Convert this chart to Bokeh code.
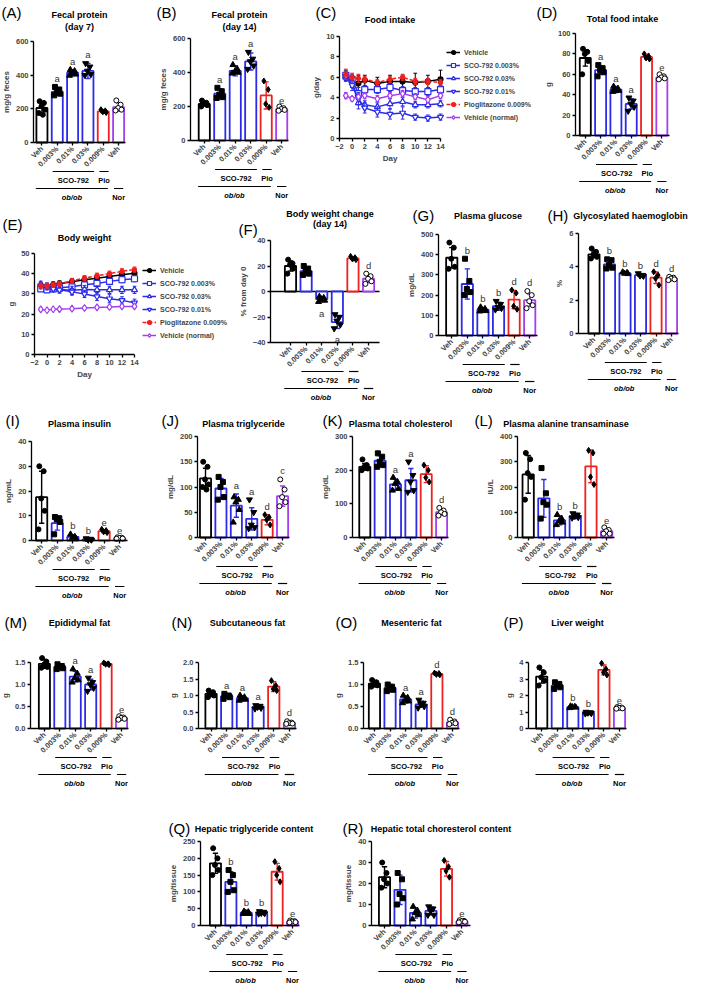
import math
from bokeh.plotting import figure
from bokeh.layouts import column, row
from bokeh.models import (Label, FixedTicker, Legend, LegendItem,
                          ColumnDataSource, Range1d, Spacer, NumeralTickFormatter)
from bokeh.embed import file_html
from bokeh.resources import INLINE
from bokeh.core.properties import value

# ---------------- data ----------------
groups = ["Veh", "0.003%", "0.01%", "0.03%", "0.009%", "Veh"]

fecal7_ticks = [0, 200, 400, 600]
fecal7_mean = [205, 300, 415, 425, 185, 210]
fecal7_sd = [35, 20, 18, 45, 10, 25]
fecal7_pts = [[245, 235, 215, 195, 175, 165], [330, 315, 300, 290, 280], [432, 425, 415, 405, 398],
              [470, 450, 425, 405, 400], [195, 188, 182, 178], [250, 225, 205, 195, 190]]
fecal7_sig = ["", "a", "a", "a", "", ""]

fecal14_ticks = [0, 200, 400, 600]
fecal14_mean = [215, 275, 410, 465, 265, 185]
fecal14_sd = [10, 28, 30, 50, 80, 10]
fecal14_pts = [[235, 222, 215, 208, 200], [310, 290, 270, 255, 250], [445, 420, 405, 400, 395],
               [520, 480, 465, 440, 420], [350, 300, 215, 195], [200, 190, 185, 180, 175]]
fecal14_sig = ["", "a", "a", "a", "", "e"]

food_total_ticks = [0, 20, 40, 60, 80, 100]
food_total_mean = [76, 64, 45, 31, 77, 57]
food_total_sd = [8, 4, 3, 5, 2, 2]
food_total_pts = [[85, 82, 80, 73, 60], [69, 66, 64, 62, 58], [48, 46, 45, 44, 43],
                  [37, 34, 31, 28, 24], [80, 78, 76, 75], [60, 58, 57, 56, 55]]
food_total_sig = ["", "a", "a", "a", "", "e"]

bwchg_ticks = [-40, -20, 0, 20, 40]
bwchg_mean = [20, 16, -6, -24, 26, 10]
bwchg_sd = [4, 3, 2, 5, 1, 3]
bwchg_pts = [[25, 22, 21, 18, 14], [20, 18, 16, 14, 13], [-4, -5, -6, -7, -8],
             [-18, -20, -23, -26, -29], [27.5, 26.5, 25.5, 25], [14, 12, 10, 8, 6]]
bwchg_sig = ["", "", "a", "a", "", "d"]

glucose_ticks = [0, 100, 200, 300, 400, 500]
glucose_mean = [385, 255, 128, 145, 178, 175]
glucose_sd = [50, 75, 10, 20, 45, 30]
glucose_pts = [[460, 435, 380, 340, 330], [380, 270, 230, 215, 200], [140, 132, 125, 122, 120],
               [170, 155, 140, 135, 128], [225, 210, 145, 130], [220, 200, 170, 150, 135]]
glucose_sig = ["", "b", "b", "b", "d", "d"]

hba1c_ticks = [0, 2, 4, 6]
hba1c_mean = [4.75, 4.15, 3.62, 3.5, 3.35, 3.3]
hba1c_sd = [0.2, 0.25, 0.05, 0.08, 0.35, 0.08]
hba1c_pts = [[5.1, 4.9, 4.75, 4.6, 4.5], [4.45, 4.4, 4.1, 3.95, 3.9], [3.68, 3.64, 3.6, 3.58],
             [3.6, 3.5, 3.47, 3.45], [3.7, 3.5, 3.3, 2.9], [3.4, 3.35, 3.3, 3.25, 3.2]]
hba1c_sig = ["", "b", "b", "b", "d", "d"]

insulin_ticks = [0, 10, 20, 30, 40]
insulin_mean = [17.5, 7, 1.5, 0.5, 3.8, 1.0]
insulin_sd = [10.5, 2.8, 0.8, 0.3, 0.6, 0.3]
insulin_pts = [[30, 28, 17, 12, 4.5], [9.5, 9, 8.5, 7.5, 2.5], [2.5, 1.5, 1.2, 0.8],
               [0.8, 0.6, 0.4, 0.3], [4.5, 4, 3.5, 3.2], [1.3, 1.1, 1.0, 0.8, 0.7]]
insulin_sig = ["", "", "b", "b", "e", "e"]

tg_ticks = [0, 50, 100, 150, 200]
tg_mean = [117, 97, 63, 37, 35, 82]
tg_sd = [20, 20, 23, 22, 10, 20]
tg_pts = [[150, 140, 115, 105, 100, 95], [120, 110, 100, 80, 75], [80, 75, 70, 55, 30],
          [75, 50, 25, 20, 18], [45, 40, 35, 25], [115, 95, 80, 70, 62]]
tg_sig = ["", "", "a", "a", "d", "c"]

tc_ticks = [0, 100, 200, 300]
tc_mean = [210, 228, 158, 170, 188, 75]
tc_sd = [10, 15, 15, 35, 25, 8]
tc_pts = [[232, 215, 210, 205, 200], [250, 240, 225, 215, 210], [178, 165, 160, 145, 140],
          [225, 185, 165, 140, 135], [215, 200, 178, 165], [88, 80, 75, 70, 65]]
tc_sig = ["", "", "a", "a", "", "d"]

alt_ticks = [0, 100, 200, 300, 400]
alt_mean = [250, 155, 68, 85, 282, 25]
alt_sd = [75, 75, 18, 10, 65, 10]
alt_pts = [[335, 310, 255, 240, 150], [275, 175, 140, 130, 75], [90, 75, 65, 60, 50],
           [95, 90, 85, 80, 78], [345, 335, 240, 210], [40, 30, 25, 15, 15]]
alt_sig = ["", "", "b", "b", "", "e"]

epi_ticks = [0, 0.5, 1.0, 1.5]
epi_mean = [1.47, 1.4, 1.18, 1.0, 1.47, 0.24]
epi_sd = [0.1, 0.05, 0.12, 0.12, 0.02, 0.03]
epi_pts = [[1.6, 1.52, 1.45, 1.4, 1.38], [1.46, 1.42, 1.4, 1.37, 1.35], [1.35, 1.25, 1.15, 1.1, 1.05],
           [1.15, 1.05, 1.0, 0.92, 0.85], [1.49, 1.47, 1.46, 1.45], [0.28, 0.25, 0.24, 0.22, 0.2]]
epi_sig = ["", "", "a", "a", "", "e"]

subq_ticks = [0, 0.5, 1.0, 1.5, 2.0]
subq_mean = [1.05, 0.98, 0.92, 0.65, 1.27, 0.17]
subq_sd = [0.08, 0.06, 0.07, 0.05, 0.15, 0.04]
subq_pts = [[1.15, 1.1, 1.05, 1.0, 0.95], [1.05, 1.0, 0.98, 0.95, 0.9], [1.0, 0.95, 0.9, 0.88, 0.85],
            [0.7, 0.68, 0.65, 0.62, 0.6], [1.45, 1.3, 1.2, 1.15], [0.22, 0.18, 0.16, 0.15, 0.14]]
subq_sig = ["", "a", "a", "a", "", "d"]

mes_ticks = [0, 0.5, 1.0, 1.5]
mes_mean = [1.02, 0.92, 0.66, 0.55, 1.24, 0.14]
mes_sd = [0.07, 0.08, 0.08, 0.07, 0.02, 0.04]
mes_pts = [[1.1, 1.05, 1.0, 0.98, 0.95], [1.0, 0.95, 0.9, 0.88, 0.85], [0.75, 0.7, 0.65, 0.62, 0.58],
           [0.65, 0.58, 0.55, 0.5, 0.47], [1.26, 1.25, 1.23, 1.22], [0.2, 0.16, 0.13, 0.12, 0.1]]
mes_sig = ["", "", "a", "a", "d", "d"]

liver_ticks = [0, 1, 2, 3, 4]
liver_mean = [3.15, 2.6, 1.3, 0.95, 3.55, 1.25]
liver_sd = [0.4, 0.15, 0.05, 0.05, 0.3, 0.05]
liver_pts = [[3.7, 3.4, 3.1, 2.9, 2.6], [2.8, 2.7, 2.6, 2.5, 2.4], [1.35, 1.32, 1.3, 1.28, 1.25],
             [1.0, 0.97, 0.95, 0.92, 0.9], [3.95, 3.6, 3.4, 3.25], [1.3, 1.27, 1.25, 1.22, 1.2]]
liver_sig = ["", "", "b", "b", "", "e"]

htg_ticks = [0, 50, 100, 150, 200, 250]
htg_mean = [185, 130, 38, 38, 160, 12]
htg_sd = [30, 30, 4, 4, 25, 3]
htg_pts = [[230, 200, 180, 165, 150], [165, 150, 130, 105, 100], [42, 40, 38, 35, 35],
           [42, 40, 37, 36, 35], [190, 170, 150, 130], [15, 13, 12, 10, 9]]
htg_sig = ["", "b", "b", "b", "", "e"]

htc_ticks = [0, 10, 20, 30, 40]
htc_mean = [23, 17, 6, 7, 27, 2]
htc_sd = [5, 7, 2.5, 2, 3.5, 0.5]
htc_pts = [[30, 25, 22, 20, 18], [25, 22, 15, 13, 10], [9, 7, 6, 5, 3],
           [9, 8, 7, 5, 5], [31, 28, 26, 23], [2.5, 2.2, 2, 1.8, 1.5]]
htc_sig = ["", "", "", "", "", "e"]

days = [-1, 0, 1, 2, 4, 6, 8, 10, 12, 14]
day_ticks = [-2, 0, 2, 4, 6, 8, 10, 12, 14]
series_names = ["Vehicle", "SCO-792 0.003%", "SCO-792 0.03%", "SCO-792 0.01%",
                "Pioglitazone 0.009%", "Vehicle (normal)"]

food_ticks = [0, 2, 4, 6, 8, 10]
food_veh = [6.2, 5.6, 5.4, 5.7, 5.4, 5.6, 5.6, 5.5, 5.6, 5.8]
food_sco003 = [6.2, 5.8, 4.4, 4.8, 4.8, 5.0, 4.7, 4.6, 4.6, 4.8]
food_sco03 = [6.0, 5.6, 3.5, 3.3, 3.1, 3.4, 3.6, 3.3, 3.3, 3.4]
food_sco01 = [6.1, 5.2, 3.9, 3.0, 2.6, 2.4, 2.5, 2.1, 2.0, 2.1]
food_pio = [6.3, 6.0, 5.9, 5.8, 5.5, 5.8, 6.0, 5.6, 5.6, 5.5]
food_nor = [4.2, 3.9, 4.1, 4.2, 3.9, 4.2, 4.4, 4.1, 3.8, 4.2]
food_veh_sd = [0.5, 0.6, 0.8, 0.5, 0.6, 0.6, 0.6, 0.9, 0.6, 0.9]
food_sco003_sd = [0.4, 0.5, 0.6, 0.4, 0.4, 0.4, 0.4, 0.4, 0.4, 0.4]
food_sco03_sd = [0.4, 0.5, 0.6, 0.4, 0.4, 0.5, 0.4, 0.3, 0.3, 0.3]
food_sco01_sd = [0.4, 0.5, 0.6, 0.5, 0.5, 0.5, 0.6, 0.3, 0.3, 0.3]
food_pio_sd = [0.5, 0.4, 0.4, 0.3, 0.3, 0.3, 0.3, 0.3, 0.3, 0.3]
food_nor_sd = [0.3, 0.2, 0.3, 0.3, 0.3, 0.3, 0.3, 0.3, 0.3, 0.3]

bw_ticks = [0, 10, 20, 30, 40, 50]
bw_veh = [34, 33.8, 34.5, 35, 36, 37, 37.8, 38.6, 39.5, 40.2]
bw_sco003 = [32.5, 32, 32.5, 33, 33.5, 34.5, 35.2, 36.2, 37, 37.5]
bw_sco03 = [34.8, 33.8, 33, 32.2, 31.8, 32.2, 32, 32, 32, 32]
bw_sco01 = [34, 33.5, 32.5, 32, 31, 30, 28.7, 27.6, 26.8, 25.6]
bw_pio = [34, 34, 34.5, 35, 36.5, 37.8, 39, 40, 41.2, 42]
bw_nor = [22.3, 21.9, 22.4, 22.5, 22.7, 23.0, 23.3, 23.5, 23.8, 23.8]
bw_veh_sd = [1.5, 1.5, 1.5, 1.5, 1.6, 1.7, 1.8, 1.9, 2.0, 2.0]
bw_sco003_sd = [1.0, 1.0, 1.0, 1.0, 1.2, 1.3, 1.4, 1.5, 1.5, 1.5]
bw_sco03_sd = [1.5, 1.5, 1.5, 1.8, 2.0, 2.0, 2.0, 1.8, 1.8, 1.8]
bw_sco01_sd = [1.5, 1.5, 1.5, 1.5, 1.6, 1.8, 2.0, 2.0, 1.8, 1.8]
bw_pio_sd = [1.2, 1.2, 1.2, 1.2, 1.2, 1.2, 1.3, 1.3, 1.3, 1.3]
bw_nor_sd = [0.5, 0.5, 0.5, 0.5, 0.5, 0.6, 0.6, 0.6, 0.6, 0.6]

# ---------------- styles ----------------
FONT = "Liberation Sans"
BLACK = "#000000"
BLUE = "#2b2be8"
RED = "#ee2020"
PURPLE = "#a23ef0"
BAR_COLORS = [BLACK, BLUE, BLUE, BLUE, RED, PURPLE]
PT_MARKERS = ["circle", "square", "triangle", "inverted_triangle", "diamond", "circle"]
PT_SIZES = [5, 5, 6, 6, 6, 5]
PT_FILL = ["black", "black", "black", "black", "black", "white"]
JITTER = [-0.15, 0.13, -0.03, 0.19, -0.2, 0.06]
CAP = 0.17
BAR_W = 0.72
TITLE_SIZE = "9px"
LINE_STYLES = [
    dict(color=BLACK, marker="circle", fill=BLACK, dash="solid", size=5),
    dict(color=BLUE, marker="square", fill="white", dash="solid", size=6),
    dict(color=BLUE, marker="triangle", fill="white", dash="solid", size=6),
    dict(color=BLUE, marker="inverted_triangle", fill="white", dash="solid", size=6),
    dict(color=RED, marker="circle", fill=RED, dash="4 2", size=4),
    dict(color=PURPLE, marker="diamond", fill="white", dash="solid", size=7),
]
# group brackets: (x0, x1, px below the x axis)
GROUP_LINES = [(0.7, 3.4, 29), (3.75, 4.35, 29), (-0.4, 4.3, 46), (4.7, 5.3, 46)]
GROUP_TEXT = [("SCO-792", 2.05, 37.5, "bold"), ("Pio", 4.05, 37.5, "bold"),
              ("ob/ob", 1.95, 54.5, "bold italic"), ("Nor", 5.0, 54.5, "bold")]

# geometry (px): canvas width/height, plot-area left/width, y px of top tick / bottom tick
GEO = {
    "A": dict(cw=155, ch=202, fl=33, fw=92, yt=41, yz=142, xr=(-0.55, 5.45), ty=[14, 26], lx=1, ly=12),
    "B": dict(cw=148, ch=202, fl=35, fw=98, yt=38, yz=140, xr=(-0.89, 5.44), ty=[14, 26], lx=1, ly=12),
    "C": dict(cw=232, ch=202, fl=36, fw=101, yt=36, yz=138, ty=[19], lx=12, ly=12, leg=(107, 16)),
    "D": dict(cw=158, ch=202, fl=40, fw=94, yt=33, yz=135, xr=(-0.64, 5.5), ty=[18], lx=1, ly=12),
    "E": dict(cw=236, ch=206, fl=34, fw=100, yt=51, yz=152, ty=[35], lx=2, ly=22, leg=(108, 14)),
    "F": dict(cw=170, ch=206, fl=34, fw=109, yt=38, yz=140, xr=(-1.28, 5.7), ty=[11, 21], lx=2, ly=27,
              tdx=5),
    "G": dict(cw=139, ch=206, fl=32, fw=99, yt=32, yz=133, xr=(-0.85, 5.5), ty=[13], lx=6, ly=13),
    "H": dict(cw=148, ch=206, fl=33, fw=100, yt=31, yz=131, xr=(-1.0, 5.45), ty=[13], lx=2, ly=13, tdx=2),
    "I": dict(cw=160, ch=202, fl=31, fw=96, yt=33, yz=132, xr=(-0.65, 5.5), ty=[15], lx=5, ly=12),
    "J": dict(cw=160, ch=202, fl=37, fw=92, yt=28, yz=129, xr=(-0.52, 5.45), ty=[15], lx=1, ly=12),
    "K": dict(cw=152, ch=202, fl=32, fw=96, yt=28, yz=129, xr=(-0.8, 5.45), ty=[15], lx=2, ly=12),
    "L": dict(cw=221, ch=202, fl=45, fw=97, yt=28, yz=129, xr=(-0.68, 5.5), ty=[15], lx=2, ly=12),
    "M": dict(cw=165, ch=202, fl=30, fw=98, yt=52, yz=118, xr=(-0.9, 5.45), ty=[12], lx=4, ly=12),
    "N": dict(cw=168, ch=202, fl=33, fw=98, yt=52, yz=118, xr=(-0.8, 5.45), ty=[12], lx=6, ly=12),
    "O": dict(cw=167, ch=202, fl=30, fw=96, yt=52, yz=118, xr=(-0.7, 5.45), ty=[12], lx=2, ly=12),
    "P": dict(cw=193, ch=202, fl=28, fw=98, yt=52, yz=118, xr=(-0.85, 5.45), ty=[12], lx=3, ly=12),
    "Q": dict(cw=175, ch=173, fl=35, fw=99, yt=29, yz=113, xr=(-0.97, 5.45), ty=[16], lx=3, ly=16, tdx=4),
    "R": dict(cw=353, ch=173, fl=31, fw=99, yt=29, yz=113, xr=(-0.84, 5.55), ty=[16], lx=2, ly=16, tdx=20),
}


def make_fig(g, xr, yr):
    """Whole canvas is the plot area; axes are pinned with fixed_location."""
    sx = g["fw"] / (xr[1] - xr[0])
    sy = (g["yz"] - g["yt"]) / (yr[1] - yr[0])
    X0 = xr[0] - g["fl"] / sx
    X1 = xr[1] + (g["cw"] - g["fl"] - g["fw"]) / sx
    Y1 = yr[1] + g["yt"] / sy
    Y0 = yr[0] - (g["ch"] - g["yz"]) / sy
    p = figure(width=g["cw"], height=g["ch"], x_range=Range1d(X0, X1), y_range=Range1d(Y0, Y1),
               min_border=0, output_backend="svg", toolbar_location=None, tools="")
    p.outline_line_color = None
    p.grid.visible = False
    p.background_fill_color = "white"
    p.border_fill_color = "white"
    p.xaxis[0].fixed_location = yr[0]
    p.xaxis[0].bounds = xr
    p.yaxis[0].fixed_location = xr[0]
    p.yaxis[0].bounds = yr
    style_axes(p)
    return p, sy


def style_axes(p):
    for ax in p.axis:
        ax.axis_line_width = 1.3
        ax.major_tick_line_width = 1.3
        ax.major_tick_in = 0
        ax.major_tick_out = 3
        ax.minor_tick_line_color = None
        ax.major_label_text_font = FONT
        ax.major_label_text_font_size = "7.5px"
        ax.major_label_text_font_style = "bold"
        ax.major_label_standoff = 2
        ax.axis_label_text_font = FONT
        ax.axis_label_text_font_size = "8px"
        ax.axis_label_text_font_style = "bold"
        ax.axis_label_standoff = 2


def put_text(p, text, x, y, size, style="bold", align="center", x_units="screen"):
    p.add_layout(Label(x=x, y=y, x_units=x_units, y_units="screen", text=text, text_font=FONT,
                       text_font_size=size, text_font_style=style, text_align=align,
                       text_baseline="middle", text_color="black"))


def headers(p, g, title_lines, letter):
    ch = g["ch"]
    dx = g.get("tdx", 0)
    for txt, ty in zip(title_lines, g["ty"]):
        put_text(p, txt, g["fl"] + g["fw"] / 2 + dx, ch - ty, TITLE_SIZE)
    put_text(p, letter, g["lx"], ch - g["ly"], "15px", style="normal", align="left")


def group_annotations(p, g, ymin, sy):
    p.segment(x0=[a for a, b, c in GROUP_LINES], x1=[b for a, b, c in GROUP_LINES],
              y0=[ymin - c / sy for a, b, c in GROUP_LINES], y1=[ymin - c / sy for a, b, c in GROUP_LINES],
              line_color="black", line_width=1.2)
    for txt, x, off, style in GROUP_TEXT:
        put_text(p, txt, x, g["ch"] - g["yz"] - off, "7.5px", style=style, x_units="data")


def bar_panel(key, means, sds, pts, sig, yticks, ylabel, title, fmt=None, zero_line=False):
    g = GEO[key]
    ymin, ymax = yticks[0], yticks[-1]
    p, sy = make_fig(g, g["xr"], (ymin, ymax))
    xs = list(range(len(means)))
    lo = [m - s for m, s in zip(means, sds)]
    hi = [m + s for m, s in zip(means, sds)]
    src = ColumnDataSource(dict(x=xs, top=means, lo=lo, hi=hi,
                                cl=[x - CAP for x in xs], cr=[x + CAP for x in xs], color=BAR_COLORS))
    if zero_line:
        p.segment(x0=[g["xr"][0]], x1=[g["xr"][1]], y0=[0], y1=[0], line_color="black", line_width=1.3)
    p.vbar(x="x", top="top", bottom=0, width=BAR_W, fill_color="white", line_color="color",
           line_width=1.8, source=src)
    p.segment(x0="x", y0="lo", x1="x", y1="hi", line_color="color", line_width=1.4, source=src)
    p.segment(x0="cl", y0="hi", x1="cr", y1="hi", line_color="color", line_width=1.4, source=src)
    p.segment(x0="cl", y0="lo", x1="cr", y1="lo", line_color="color", line_width=1.4, source=src)
    for i, vals in enumerate(pts):
        px = [i + JITTER[k] for k in range(len(vals))]
        p.scatter(x=px, y=vals, marker=PT_MARKERS[i], size=PT_SIZES[i], fill_color=PT_FILL[i],
                  line_color="black", line_width=1)
    ux, uy, ut, dx_, dy_, dt_ = [], [], [], [], [], []
    for i, s in enumerate(sig):
        if not s:
            continue
        if means[i] < 0:
            dx_.append(i); dy_.append(min(lo[i], min(pts[i]))); dt_.append(s)
        else:
            ux.append(i); uy.append(max(hi[i], max(pts[i]))); ut.append(s)
    if ux:
        p.text(x=ux, y=uy, text=ut, text_align="center", text_baseline="bottom", y_offset=-3,
               text_font=value(FONT), text_font_size="9.5px", text_color="#333333")
    if dx_:
        p.text(x=dx_, y=dy_, text=dt_, text_align="center", text_baseline="top", y_offset=6,
               text_font=value(FONT), text_font_size="9.5px", text_color="#333333")
    xa = p.xaxis[0]
    xa.ticker = FixedTicker(ticks=xs)
    xa.major_label_overrides = {x: lab for x, lab in zip(xs, groups)}
    xa.major_label_orientation = math.pi / 4
    ya = p.yaxis[0]
    ya.ticker = FixedTicker(ticks=yticks)
    ya.axis_label = ylabel
    if fmt:
        ya.formatter = NumeralTickFormatter(format=fmt)
    group_annotations(p, g, ymin, sy)
    headers(p, g, title, "(%s)" % key)
    return p


def line_panel(key, data, sds, yticks, ylabel, title):
    g = GEO[key]
    p, sy = make_fig(g, (day_ticks[0], day_ticks[-1]), (yticks[0], yticks[-1]))
    items = []
    for vals, sd, name, st in zip(data, sds, series_names, LINE_STYLES):
        src = ColumnDataSource(dict(x=days, y=vals,
                                    lo=[v - s for v, s in zip(vals, sd)],
                                    hi=[v + s for v, s in zip(vals, sd)],
                                    cl=[d - 0.3 for d in days], cr=[d + 0.3 for d in days]))
        p.segment(x0="x", y0="lo", x1="x", y1="hi", line_color=st["color"], line_width=1, source=src)
        p.segment(x0="cl", y0="hi", x1="cr", y1="hi", line_color=st["color"], line_width=1, source=src)
        p.segment(x0="cl", y0="lo", x1="cr", y1="lo", line_color=st["color"], line_width=1, source=src)
        lr = p.line(x="x", y="y", line_color=st["color"], line_width=1.5, line_dash=st["dash"], source=src)
        sr = p.scatter(x="x", y="y", marker=st["marker"], size=st["size"], fill_color=st["fill"],
                       line_color=st["color"], line_width=1.2, source=src)
        items.append(LegendItem(label=name, renderers=[lr, sr]))
    lx, ly = g["leg"]
    legend = Legend(items=items, location=(g["fl"] + lx, g["ch"] - g["yz"] + ly),
                    label_text_font=FONT, label_text_font_size="7px",
                    label_text_font_style="bold", glyph_width=14, glyph_height=10, label_height=10,
                    label_standoff=4, spacing=3, padding=0, margin=0, border_line_color=None,
                    background_fill_alpha=0)
    p.add_layout(legend)
    p.xaxis[0].ticker = FixedTicker(ticks=day_ticks)
    p.xaxis[0].axis_label = "Day"
    p.yaxis[0].ticker = FixedTicker(ticks=yticks)
    p.yaxis[0].axis_label = ylabel
    headers(p, g, title, "(%s)" % key)
    return p


pA = bar_panel("A", fecal7_mean, fecal7_sd, fecal7_pts, fecal7_sig, fecal7_ticks, "mg/g feces",
               ["Fecal protein", "(day 7)"])
pB = bar_panel("B", fecal14_mean, fecal14_sd, fecal14_pts, fecal14_sig, fecal14_ticks, "mg/g feces",
               ["Fecal protein", "(day 14)"])
pC = line_panel("C", [food_veh, food_sco003, food_sco03, food_sco01, food_pio, food_nor],
                [food_veh_sd, food_sco003_sd, food_sco03_sd, food_sco01_sd, food_pio_sd, food_nor_sd],
                food_ticks, "g/day", ["Food intake"])
pD = bar_panel("D", food_total_mean, food_total_sd, food_total_pts, food_total_sig, food_total_ticks, "g",
               ["Total food intake"])
pE = line_panel("E", [bw_veh, bw_sco003, bw_sco03, bw_sco01, bw_pio, bw_nor],
                [bw_veh_sd, bw_sco003_sd, bw_sco03_sd, bw_sco01_sd, bw_pio_sd, bw_nor_sd],
                bw_ticks, "g", ["Body weight"])
pF = bar_panel("F", bwchg_mean, bwchg_sd, bwchg_pts, bwchg_sig, bwchg_ticks, "% from day 0",
               ["Body weight change", "(day 14)"], zero_line=True)
pG = bar_panel("G", glucose_mean, glucose_sd, glucose_pts, glucose_sig, glucose_ticks, "mg/dL",
               ["Plasma glucose"])
pH = bar_panel("H", hba1c_mean, hba1c_sd, hba1c_pts, hba1c_sig, hba1c_ticks, "%",
               ["Glycosylated haemoglobin"])
pI = bar_panel("I", insulin_mean, insulin_sd, insulin_pts, insulin_sig, insulin_ticks, "ng/mL",
               ["Plasma insulin"])
pJ = bar_panel("J", tg_mean, tg_sd, tg_pts, tg_sig, tg_ticks, "mg/dL", ["Plasma triglyceride"])
pK = bar_panel("K", tc_mean, tc_sd, tc_pts, tc_sig, tc_ticks, "mg/dL", ["Plasma total cholesterol"])
pL = bar_panel("L", alt_mean, alt_sd, alt_pts, alt_sig, alt_ticks, "IU/L", ["Plasma alanine transaminase"])
pM = bar_panel("M", epi_mean, epi_sd, epi_pts, epi_sig, epi_ticks, "g", ["Epididymal fat"], fmt="0.0")
pN = bar_panel("N", subq_mean, subq_sd, subq_pts, subq_sig, subq_ticks, "g", ["Subcutaneous fat"], fmt="0.0")
pO = bar_panel("O", mes_mean, mes_sd, mes_pts, mes_sig, mes_ticks, "g", ["Mesenteric fat"], fmt="0.0")
pP = bar_panel("P", liver_mean, liver_sd, liver_pts, liver_sig, liver_ticks, "g", ["Liver weight"])
pQ = bar_panel("Q", htg_mean, htg_sd, htg_pts, htg_sig, htg_ticks, "mg/tissue",
               ["Hepatic triglyceride content"])
pR = bar_panel("R", htc_mean, htc_sd, htc_pts, htc_sig, htc_ticks, "mg/tissue",
               ["Hepatic total choresterol content"])

layout = column(
    row(pA, pB, pC, pD, spacing=0),
    row(pE, pF, pG, pH, spacing=0),
    row(pI, pJ, pK, pL, spacing=0),
    row(pM, pN, pO, pP, spacing=0),
    row(Spacer(width=165, height=173), pQ, pR, spacing=0),
    spacing=0,
)

open("out.html", "w").write(file_html(layout, INLINE))
